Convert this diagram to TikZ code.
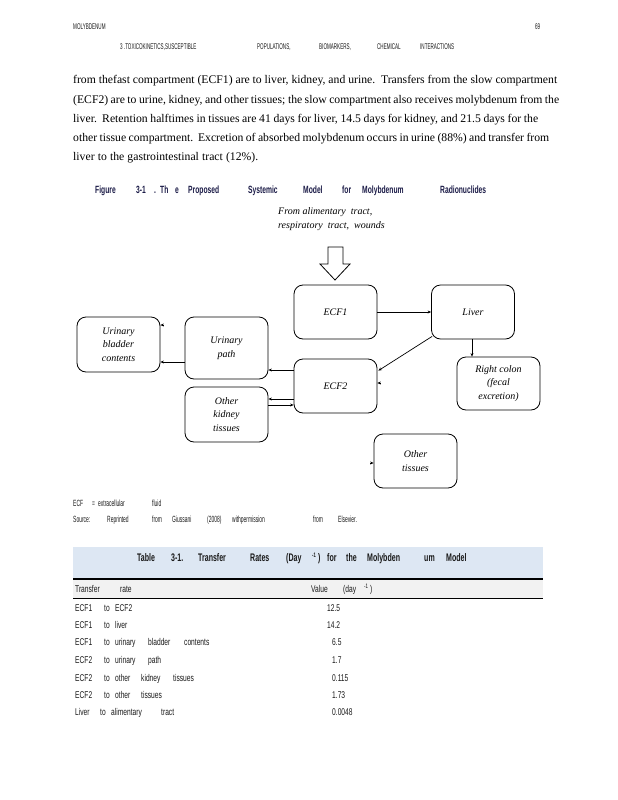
\documentclass[tikz,border=0pt]{standalone}
\usepackage{fontspec}
\setmainfont{Liberation Serif}
\newfontfamily\smallsans[FakeStretch=0.55]{Liberation Sans}
\newfontfamily\tabfont[FakeStretch=0.68]{Liberation Sans}
\newfontfamily\titfont[FakeStretch=0.64]{Liberation Sans}
\usetikzlibrary{arrows.meta,calc}
\definecolor{navy}{HTML}{1C1C48}
\definecolor{bandblue}{HTML}{DDE7F3}
\definecolor{bandgray}{HTML}{F2F2F2}
\definecolor{hdrgray}{HTML}{1A1A1A}
\newcommand\wbox[2]{\makebox[#1pt][l]{#2}}
\newcommand\supm{\raisebox{4pt}{\fontsize{6.5}{6.5}\selectfont -1}}
\begin{document}
\begin{tikzpicture}[x=1pt,y=-1pt,
  box/.style={draw,line width=0.8pt,rounded corners=9pt,minimum width=83pt,minimum height=54pt,inner sep=0pt,align=center,font=\fontsize{10}{13.5}\selectfont\itshape},
  arr/.style={-{Stealth[length=3.5pt,width=3pt]},line width=0.7pt},
  hdr/.style={anchor=base west,inner sep=0pt,font=\smallsans\fontsize{8.3}{8.3}\selectfont,text=hdrgray},
  foot/.style={anchor=base west,inner sep=0pt,font=\smallsans\fontsize{9}{9}\selectfont,text=hdrgray},
  para/.style={anchor=base west,inner sep=0pt,font=\fontsize{11.7}{14}\selectfont},
  figtitle/.style={anchor=base west,inner sep=0pt,font=\titfont\bfseries\fontsize{10.5}{10.5}\selectfont,text=navy},
  tabtitle/.style={anchor=base west,inner sep=0pt,font=\titfont\bfseries\fontsize{11}{11}\selectfont,text=black!90},
  tab/.style={anchor=base west,inner sep=0pt,font=\tabfont\fontsize{9.8}{9.8}\selectfont,text=black!90},
]
\fill[white] (0,0) rectangle (618,800);
\useasboundingbox (0,0) rectangle (618,800);

% running heads
\node[hdr] (h1) at (73,30) {MOLYBDENUM};
\node[hdr] (h2) at (535,30) {69};
\node[hdr] (h3) at (120,49) {\wbox{137}{3 .TOXICOKINETICS,SUSCEPTIBLE}\wbox{62}{POPULATIONS,}\wbox{58}{BIOMARKERS,}\wbox{43}{CHEMICAL}INTERACTIONS};

% paragraph
\node[para] (p1) at (73,84) {\makebox[484pt][s]{from thefast compartment (ECF1) are to liver, kidney, and urine.\ \ Transfers from the slow compartment}};
\node[para] (p2) at (73,103) {\makebox[486pt][s]{(ECF2) are to urine, kidney, and other tissues; the slow compartment also receives molybdenum from the}};
\node[para] (p3) at (73,122) {\makebox[465pt][s]{liver.\ \ Retention halftimes in tissues are 41 days for liver, 14.5 days for kidney, and 21.5 days for the}};
\node[para] (p4) at (73,141) {\makebox[476pt][s]{other tissue compartment.\ \ Excretion of absorbed molybdenum occurs in urine (88\%) and transfer from}};
\node[para] (p5) at (73,160) {\makebox[185pt][s]{liver to the gastrointestinal tract (12\%).}};

% figure title
\node[figtitle] (ft) at (95,193) {\wbox{41}{Figure}\wbox{18}{3-1}\wbox{6}{.}\wbox{15}{Th}\wbox{13}{e}\wbox{60}{Proposed}\wbox{55}{Systemic}\wbox{39}{Model}\wbox{20}{for}\wbox{78}{Molybdenum}Radionuclides};

% input label and hollow arrow
\node[anchor=base west,inner sep=0pt,align=left,font=\fontsize{10}{14}\selectfont\itshape] (src) at (278,228) {From alimentary\ \ tract,\\respiratory\ \ tract,\ \ wounds};
\draw[line width=0.8pt,fill=white] (328,247) -- (343,247) -- (343,264) -- (350,264) -- (335,280) -- (320,264) -- (328,264) -- cycle;

% compartments
\node[box] (ecf1) at (335.5,312) {ECF1};
\node[box] (liver) at (473,312) {Liver};
\node[box,minimum height=53pt] (colon) at (498.5,383.5) {Right colon\\(fecal\\excretion)};
\node[box] (ecf2) at (335.5,386) {ECF2};
\node[box] (othert) at (415.5,461) {Other\\tissues};
\node[box,minimum height=55pt] (bladder) at (118.5,344.5) {Urinary\\bladder\\contents};
\node[box,minimum height=62pt] (upath) at (226.5,348) {Urinary\\path};
\node[box,minimum height=55pt] (kidney) at (226.5,414.5) {Other\\kidney\\tissues};

% connectors
\draw[arr] (ecf1.east) -- (liver.west);
\draw[arr] ([xshift=1pt,yshift=3pt]liver.south west) -- ([xshift=1pt,yshift=-12pt]ecf2.north east);
\draw[arr] (liver.south -| 472,0) -- (colon.north -| 472,0);
\draw[arr] (ecf2.west |- 0,370) -- (upath.east |- 0,370);
\draw[arr] (ecf2.west |- 0,399) -- (kidney.east |- 0,399);
\draw[arr] (kidney.east |- 0,405) -- (ecf2.west |- 0,405);
\draw[arr] (upath.west |- 0,362) -- (bladder.east |- 0,362);
\coordinate (bs) at (bladder.east |- 0,325);
\draw[arr] ([xshift=3.5pt]bs) -- (bs);
\coordinate (es) at (ecf2.east |- 0,383);
\draw[arr] ([xshift=3.5pt]es) -- (es);
\coordinate (os) at (othert.west |- 0,463);
\draw[arr] ([xshift=-3.5pt]os) -- (os);

% footnotes
\node[foot] (f1) at (73,506) {\wbox{19}{ECF}\wbox{6}{=}\wbox{54}{extracellular}fluid};
\node[foot] (f2) at (73,522) {\wbox{34}{Source:}\wbox{45}{Reprinted}\wbox{20}{from}\wbox{35}{Giussani}\wbox{25}{(2008)}\wbox{81}{withpermission}\wbox{25}{from}Elsevier.};

% table
\fill[bandblue] (73,547) rectangle (543,579);
\fill[bandgray] (73,579) rectangle (543,598);
\draw[line width=1.4pt] (73,579) -- (543,579);
\draw[line width=1pt] (73,598) -- (543,598);
\node[tabtitle] (tt) at (137,561) {\wbox{34}{Table}\wbox{27}{3-1.}\wbox{52}{Transfer}\wbox{36}{Rates}\wbox{26}{(Day}\wbox{6}{\supm}\wbox{9}{)}\wbox{19}{for}\wbox{21}{the}\wbox{57}{Molybden}\wbox{22}{um}Model};
\node[tab] (th1) at (75,592.5) {\wbox{45}{Transfer}rate};
\node[tab] (th2) at (311,592.5) {\wbox{32}{Value}\wbox{21}{(day}\wbox{6}{\supm})};
\node[tab] (r1) at (75,611.5) {\wbox{29}{ECF1}\wbox{11}{to}ECF2};
\node[tab] (r2) at (75,628.5) {\wbox{29}{ECF1}\wbox{11}{to}liver};
\node[tab] (r3) at (75,645.5) {\wbox{29}{ECF1}\wbox{11}{to}\wbox{33}{urinary}\wbox{36}{bladder}contents};
\node[tab] (r4) at (75,663.5) {\wbox{29}{ECF2}\wbox{11}{to}\wbox{33}{urinary}path};
\node[tab] (r5) at (75,681.5) {\wbox{29}{ECF2}\wbox{11}{to}\wbox{26}{other}\wbox{32}{kidney}tissues};
\node[tab] (r6) at (75,698.5) {\wbox{29}{ECF2}\wbox{11}{to}\wbox{26}{other}tissues};
\node[tab] (r7) at (75,715.5) {\wbox{25}{Liver}\wbox{11}{to}\wbox{50}{alimentary}tract};
\node[tab] (v1) at (327,611.5) {12.5};
\node[tab] (v2) at (327,628.5) {14.2};
\node[tab] (v3) at (332,645.5) {6.5};
\node[tab] (v4) at (332,663.5) {1.7};
\node[tab] (v5) at (332,681.5) {0.115};
\node[tab] (v6) at (332,698.5) {1.73};
\node[tab] (v7) at (332,715.5) {0.0048};
\end{tikzpicture}
\end{document}
